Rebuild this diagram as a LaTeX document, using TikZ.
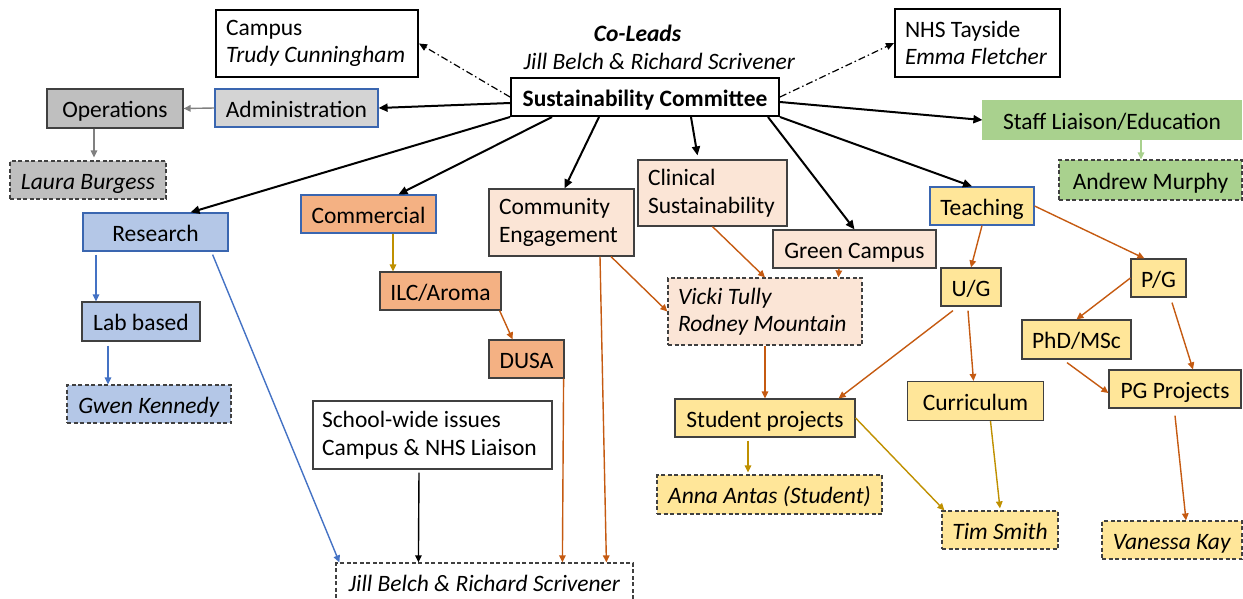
\documentclass[tikz,border=0pt]{standalone}
\usepackage{fontspec}
\setmainfont{Carlito}
\usetikzlibrary{arrows.meta,calc}
\definecolor{bord}{HTML}{404040}
\definecolor{bluebd}{HTML}{3A66B0}
\definecolor{greyA}{HTML}{D4D4D4}
\definecolor{greyB}{HTML}{BFBFBF}
\definecolor{blueF}{HTML}{B4C7E7}
\definecolor{orangeF}{HTML}{F4B183}
\definecolor{peachF}{HTML}{FBE5D6}
\definecolor{yellowF}{HTML}{FFE699}
\definecolor{greenF}{HTML}{A9D18E}
\definecolor{orangeL}{HTML}{C55A11}
\definecolor{goldL}{HTML}{BF9000}
\definecolor{blueL}{HTML}{4472C4}
\definecolor{greyL}{HTML}{808080}
\definecolor{greenL}{HTML}{A9D18E}
\tikzset{
  bx/.style={draw=bord, line width=1.2pt, inner sep=0pt, anchor=center},
  one/.style={text height=19pt, text depth=1pt},
  thickbx/.style={bx, draw=black, line width=2pt},
  dashbx/.style={bx, draw=bord, dash pattern=on 4pt off 2.5pt},
  bluebx/.style={bx, draw=bluebd},
  two/.style={align=flush left},
  blk/.style={draw=black, line width=2pt, -{Triangle[length=9pt,width=8pt]}},
  dashdot/.style={draw=black, line width=1.2pt, dash pattern=on 7pt off 3pt on 1.5pt off 3pt, -{Triangle[length=8pt,width=7pt]}},
  col/.style={line width=1.4pt, -{Triangle[length=7pt,width=6.5pt]}},
}
\begin{document}
\begin{tikzpicture}[x=1pt,y=-1pt,font=\fontsize{23.5}{27.5}\selectfont]
\useasboundingbox (0,0) rectangle (1243,598);
% top boxes
\node[thickbx, two, minimum width=202pt, minimum height=67pt, text width=182pt] (campus) at (317,43.5) {Campus\\\textit{Trudy Cunningham}};
\node[thickbx, two, minimum width=165pt, minimum height=68pt, text width=145pt] (nhs) at (977.5,43) {NHS Tayside\\\textit{Emma Fletcher}};
\node[inner sep=0pt] (colead) at (637.5,33) {\textbf{\textit{Co-Leads}}};
\node[inner sep=0pt] (coname) at (659.5,61) {\textit{Jill Belch \& Richard Scrivener}};
\node[thickbx, one, minimum width=268pt, minimum height=38pt] (sc) at (645,97) {\textbf{Sustainability Committee}};
% left side
\node[bluebx, one, fill=greyA, minimum width=163pt, minimum height=38pt] (admin) at (296.5,108) {Administration};
\node[bx, one, fill=greyB, minimum width=136pt, minimum height=39pt] (ops) at (115,108.5) {Operations};
\node[dashbx, one, fill=greyB, minimum width=156pt, minimum height=38pt] (laura) at (88,180) {\textit{Laura Burgess}};
\node[bluebx, one, fill=blueF, minimum width=145pt, minimum height=38pt] (research) at (155.5,232) {Research};
\node[bx, one, fill=blueF, minimum width=118pt, minimum height=39pt] (lab) at (141,321.5) {Lab based};
\node[dashbx, one, fill=blueF, minimum width=164pt, minimum height=38pt] (gwen) at (149,404) {\textit{Gwen Kennedy}};
% middle
\node[bluebx, one, fill=orangeF, minimum width=135pt, minimum height=38pt] (commercial) at (368.5,214) {Commercial};
\node[bx, one, fill=orangeF, minimum width=121pt, minimum height=38pt] (ilc) at (440.5,291) {ILC/Aroma};
\node[bx, one, fill=orangeF, minimum width=75pt, minimum height=38pt] (dusa) at (526.5,359) {DUSA};
\node[bx, two, fill=peachF, minimum width=145pt, minimum height=67pt, text width=125pt] (community) at (561.5,222.5) {Community\\Engagement};
\node[bx, two, fill=peachF, minimum width=149pt, minimum height=66pt, text width=129pt] (clinical) at (712.5,193) {Clinical\\Sustainability};
\node[bx, one, fill=peachF, minimum width=163pt, minimum height=38pt] (green) at (854.5,249) {Green Campus};
\node[dashbx, two, fill=peachF, minimum width=194pt, minimum height=67pt, text width=174pt] (vicki) at (765,311.5) {\textit{Vicki Tully}\\\textit{Rodney Mountain}};
\node[bx, two, fill=white, minimum width=239pt, minimum height=68pt, text width=221pt] (school) at (432.5,435) {School-wide issues\\Campus \& NHS Liaison};
\node[dashbx, one, fill=white, minimum width=297pt, minimum height=38pt] (jill) at (484.5,582) {\textit{Jill Belch \& Richard Scrivener}};
% right side
\node[bx, one, draw=greenF, fill=greenF, minimum width=258pt, minimum height=38pt] (staff) at (1112,120) {Staff Liaison/Education};
\node[dashbx, one, fill=greenF, minimum width=183pt, minimum height=40pt] (andrew) at (1150.5,180) {Andrew Murphy};
\node[bluebx, one, fill=yellowF, minimum width=104pt, minimum height=38pt] (teaching) at (982,206) {Teaching};
\node[bx, one, fill=yellowF, minimum width=60pt, minimum height=38pt] (ug) at (971,287) {U/G};
\node[bx, one, fill=yellowF, minimum width=55pt, minimum height=38pt] (pg) at (1158.5,278) {P/G};
\node[bx, one, fill=yellowF, minimum width=109pt, minimum height=39pt] (phd) at (1076.5,339.5) {PhD/MSc};
\node[bx, one, fill=yellowF, minimum width=132pt, minimum height=38pt] (pgproj) at (1175,389) {PG Projects};
\node[bx, one, fill=yellowF, minimum width=136pt, minimum height=39pt] (curriculum) at (975.5,401) {Curriculum};
\node[bx, one, fill=yellowF, minimum width=180pt, minimum height=38pt] (student) at (765,418) {Student projects};
\node[dashbx, one, fill=yellowF, minimum width=225pt, minimum height=39pt] (anna) at (769.5,494.5) {\textit{Anna Antas (Student)}};
\node[dashbx, one, fill=yellowF, minimum width=116pt, minimum height=38pt] (tim) at (1000,530) {\textit{Tim Smith}};
\node[dashbx, one, fill=yellowF, minimum width=140pt, minimum height=38pt] (vanessa) at (1172,540) {\textit{Vanessa Kay}};
% connectors from committee
\draw[dashdot] (sc.west) -- (campus.east);
\draw[dashdot] (sc.east) -- (nhs.west);
\draw[blk] ([yshift=-6pt]sc.west) -- (admin.east);
\draw[blk] (sc.south west) -- ([xshift=35pt]research.north);
\draw[blk] ([xshift=42pt]sc.south west) -- ([xshift=30pt]commercial.north);
\draw[blk] ([xshift=89pt]sc.south west) -- ([xshift=3pt]community.north);
\draw[blk] ([xshift=46pt]sc.south) -- ([xshift=-15pt,yshift=4pt]clinical.north);
\draw[blk] ([xshift=-12pt]sc.south east) -- (green.north);
\draw[blk] (sc.south east) -- ([xshift=-10pt]teaching.north);
\draw[blk] ([yshift=-5pt]sc.east) -- (staff.west);
% grey / green
\draw[col, greyL] (admin.west) -- (ops.east);
\draw[col, greyL] ([xshift=-21pt]ops.south) -- ([xshift=6pt,yshift=3pt]laura.north);
\draw[col, greenL] ([xshift=29pt]staff.south) -- ([xshift=-9.5pt]andrew.north);
% blue
\draw[col, blueL] ([xshift=-59.5pt,yshift=-3pt]research.south) -- ([xshift=-45pt]lab.north);
\draw[col, blueL] ([xshift=-33pt,yshift=-4pt]lab.south) -- ([xshift=-41pt]gwen.north);
\draw[col, blueL] ([xshift=-16pt,yshift=-3pt]research.south east) -- ([xshift=4pt]jill.north west);
% commercial chain
\draw[col, goldL] ([xshift=24.5pt]commercial.south) -- ([xshift=-47.5pt]ilc.north);
\draw[col, orangeL] ([xshift=-2pt]ilc.south east) -- ([xshift=11pt]ilc.south east |- dusa.north);
\draw[col, orangeL] ([xshift=-1pt]dusa.south east) -- ([xshift=227pt]jill.north west);
% community / clinical / green
\draw[col, orangeL] ([xshift=38.5pt]community.south) -- ([xshift=271pt]jill.north west);
\draw[col, orangeL] ([xshift=49.5pt]community.south) -- (vicki.west);
\draw[col, orangeL] (clinical.south) -- (vicki.north);
\draw[col, orangeL] ([xshift=-15.5pt]green.south) -- ([xshift=171pt]vicki.north west);
\draw[col, orangeL] (vicki.south) -- (vicki.south |- student.north);
% teaching
\draw[col, orangeL] (teaching.south) -- (ug.north);
\draw[col, orangeL] (teaching.east) -- ([xshift=14pt]pg.north west);
\draw[col, orangeL] ([xshift=-18pt,yshift=-4pt]ug.south) -- ([xshift=-17pt]student.north east);
\draw[col, orangeL] ([xshift=-3pt,yshift=-4pt]ug.south) -- ([xshift=-2pt]curriculum.north);
\draw[col, orangeL] (pg.west) -- (phd.north);
\draw[col, orangeL] ([xshift=13.5pt,yshift=-5pt]pg.south) -- ([xshift=18pt]pgproj.north);
\draw[col, orangeL] ([xshift=-9.5pt,yshift=-3pt]phd.south) -- ([yshift=-4pt]pgproj.west);
\draw[col, orangeL] ([yshift=-7pt]pgproj.south) -- ([xshift=14pt]vanessa.north);
% student projects
\draw[col, goldL] ([xshift=-17pt,yshift=-3pt]student.south) -- ([xshift=-21.5pt,yshift=2pt]anna.north);
\draw[col, goldL] (student.east) -- ([xshift=3pt]tim.north west);
\draw[col, goldL] ([xshift=15pt]curriculum.south) -- ([yshift=2pt]tim.north);
% school
\draw[blk, line width=1.4pt, -{Triangle[length=7pt,width=6.5pt]}] ([xshift=-13.5pt,yshift=-3pt]school.south) -- ([xshift=83pt]jill.north west);
\end{tikzpicture}
\end{document}
